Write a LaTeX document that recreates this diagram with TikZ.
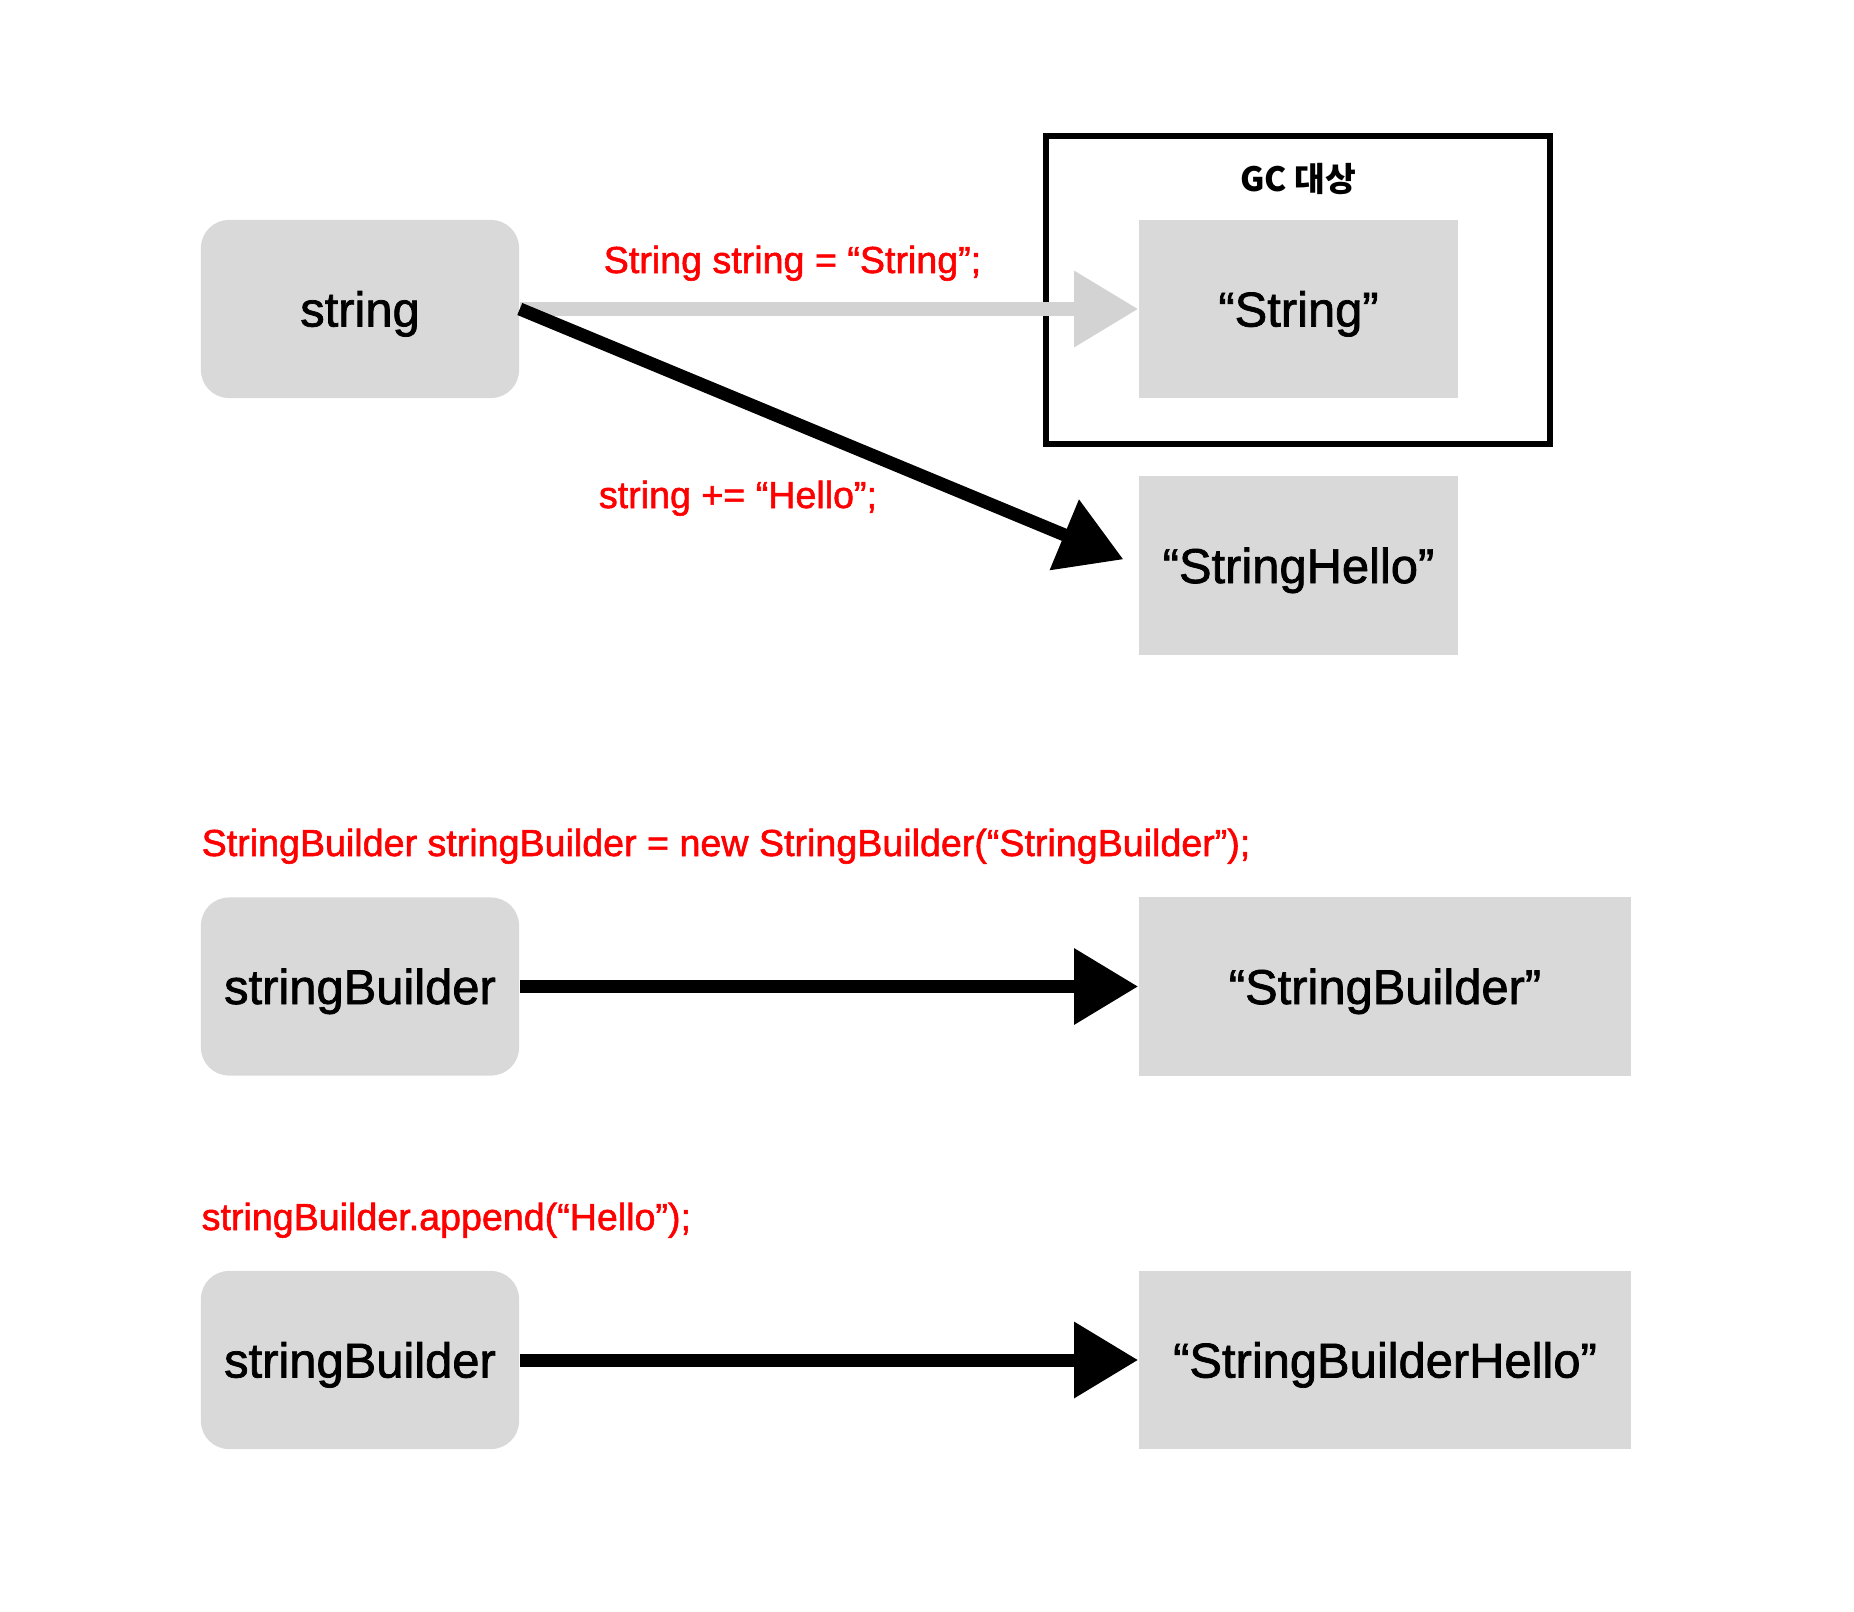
\documentclass[tikz,border=0pt]{standalone}
\usepackage{fontspec}
\setmainfont{Liberation Sans}[FakeBold=1.5]
\newfontfamily\krfont{Noto Sans CJK KR}
\usetikzlibrary{arrows.meta}

\definecolor{boxgray}{HTML}{D9D9D9}
\definecolor{linegray}{HTML}{D3D3D3}
\definecolor{codered}{HTML}{FF0000}

\begin{document}
\begin{tikzpicture}[x=0.01cm, y=-0.01cm,
    var/.style={fill=boxgray, rounded corners=0.28cm, minimum width=3.18cm, minimum height=1.78cm, inner sep=0pt, text height=0.35cm, text depth=0pt, font=\fontsize{13.9}{17}\selectfont},
    obj/.style={fill=boxgray, minimum width=3.19cm, minimum height=1.78cm, inner sep=0pt, text height=0.35cm, text depth=0pt, font=\fontsize{13.9}{17}\selectfont},
    wideobj/.style={obj, minimum width=4.92cm},
    code/.style={text=codered, inner sep=0pt, font=\fontsize{10.7}{13}\selectfont},
    ref/.style={line width=0.13cm, -{Triangle[length=0.64cm, width=0.73cm]}},
    gcbox/.style={draw, line width=0.065cm, minimum width=5.04cm, minimum height=3.08cm}]
    \useasboundingbox (0,0) rectangle (1854,1612);

    % String
    \node[gcbox] (gc) at (1298,290) {};
    \node[font=\krfont\bfseries\fontsize{9.5}{12}\selectfont] (gclabel) at (1298,179) {GC 대상};
    \node[var] (str) at (360,309) {string};
    \node[obj] (strval) at (1298.5,309) {“String”};
    \node[obj] (hello) at (1298.5,565.5) {“StringHello”};

    \draw[ref, linegray] (str.east) -- (strval.west);
    \draw[ref, shorten >=0.16cm] (str.east) -- (hello.west);

    \node[code, anchor=base] at (792.5,273) {String string = “String”;};
    \node[code, anchor=base] at (738,508) {string += “Hello”;};

    % StringBuilder
    \node[var] (sb1) at (360,986.5) {stringBuilder};
    \node[wideobj] (sbval) at (1385,986.5) {“StringBuilder”};
    \node[var] (sb2) at (360,1360) {stringBuilder};
    \node[wideobj] (sbhello) at (1385,1360) {“StringBuilderHello”};

    \draw[ref] (sb1) -- (sbval);
    \draw[ref] (sb2) -- (sbhello);

    \node[code, anchor=base west] at (201,856) {StringBuilder stringBuilder = new StringBuilder(“StringBuilder”);};
    \node[code, anchor=base west] at (201,1230) {stringBuilder.append(“Hello”);};
\end{tikzpicture}
\end{document}
